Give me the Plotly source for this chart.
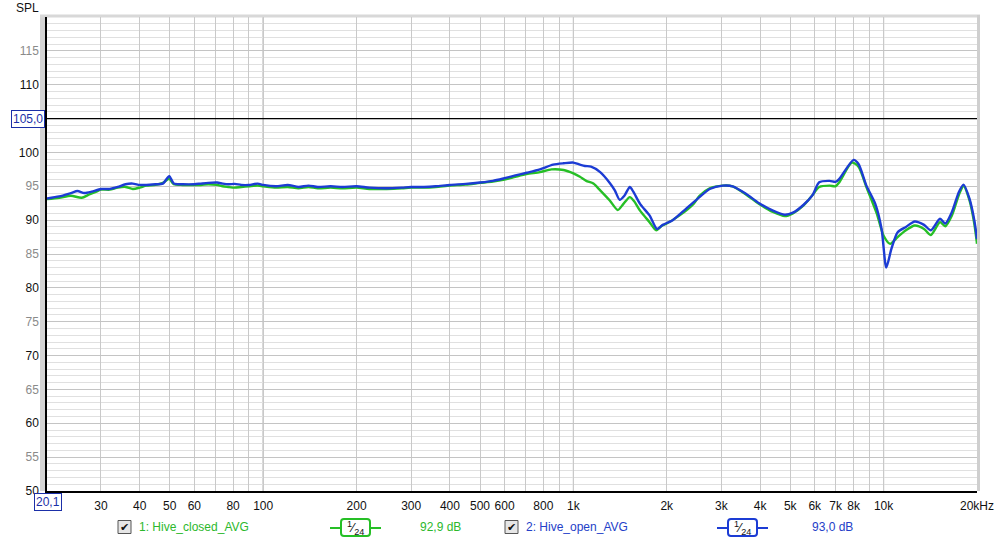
import numpy as np
import plotly.graph_objects as go

# ---------------- data ----------------
freq_closed = [20.1, 22, 24, 26, 27.5, 29, 30, 32, 34, 36, 38, 40, 42, 45, 47.5, 49.8, 51.5, 55, 60, 63,
               66.5, 71, 74, 77, 81, 85, 90, 96, 100, 110, 120, 130, 140, 150, 165, 180, 200, 220, 250,
               280, 300, 330, 360, 400, 450, 500, 550, 600, 650, 707, 780, 850, 930, 1000, 1050, 1100,
               1160, 1220, 1310, 1390, 1450, 1520, 1570, 1640, 1760, 1850, 1920, 2000, 2200, 2440, 2550,
               2750, 3030, 3260, 3600, 3970, 4400, 4800, 5100, 5500, 5900, 6200, 6700, 7000, 7200, 7900,
               8300, 8800, 9500, 10000, 10500, 11100, 11800, 12600, 13500, 14200, 15200, 15800, 16600,
               17500, 18100, 18900, 19600, 20000]
spl_closed = [93.1, 93.3, 93.6, 93.3, 93.8, 94.2, 94.5, 94.5, 94.8, 94.9, 94.6, 94.8, 95.1, 95.2, 95.5, 96.1,
              95.3, 95.2, 95.2, 95.2, 95.3, 95.2, 95.0, 94.9, 94.8, 94.9, 95.0, 95.1, 95.0, 94.8, 94.9,
              94.7, 94.9, 94.7, 94.8, 94.7, 94.8, 94.6, 94.6, 94.7, 94.8, 94.8, 94.9, 95.1, 95.25, 95.5,
              95.7, 96.0, 96.4, 96.8, 97.1, 97.5, 97.4, 96.9, 96.4, 95.8, 95.4, 94.4, 92.9, 91.5, 92.4,
              93.4, 92.8, 91.4, 89.7, 88.5, 89.1, 89.5, 90.7, 92.4, 93.6, 94.7, 95.1, 95.0, 93.8, 92.4,
              91.2, 90.6, 91.0, 92.1, 93.7, 94.9, 95.1, 95.0, 95.6, 98.5, 97.9, 94.9, 91.0, 87.7, 86.5,
              87.5, 88.5, 89.2, 88.7, 87.8, 89.7, 89.1, 90.7, 93.8, 95.05, 93.0, 89.5, 86.5]

freq_open = [20.1, 22, 24, 25.2, 26.5, 28, 30, 32, 34, 36, 38, 40, 42, 45, 47.5, 49.8, 51.5, 55, 60, 63,
             66.5, 71, 74, 77, 81, 85, 90, 96, 100, 110, 120, 130, 140, 150, 165, 180, 200, 220, 250,
             280, 300, 330, 360, 400, 450, 500, 550, 600, 650, 707, 780, 860, 930, 1000, 1050, 1090,
             1140, 1220, 1310, 1360, 1410, 1460, 1520, 1560, 1640, 1760, 1860, 1940, 2090, 2310, 2550,
             2750, 3030, 3260, 3600, 3970, 4400, 4800, 5100, 5500, 5900, 6200, 6700, 7000, 7200, 8000,
             8300, 8800, 9400, 9850, 10200, 10600, 11100, 11800, 12600, 13500, 14200, 15200, 15800,
             16600, 17500, 18100, 18900, 19600, 20000]
spl_open = [93.2, 93.5, 94.0, 94.3, 94.0, 94.2, 94.6, 94.6, 94.9, 95.3, 95.4, 95.2, 95.2, 95.3, 95.4, 96.5,
            95.4, 95.3, 95.3, 95.4, 95.5, 95.55, 95.4, 95.3, 95.35, 95.2, 95.2, 95.4, 95.2, 95.0, 95.2,
            94.9, 95.1, 94.9, 95.0, 94.9, 95.0, 94.8, 94.7, 94.8, 94.9, 94.9, 95.0, 95.2, 95.35, 95.55,
            95.8, 96.2, 96.6, 97.0, 97.5, 98.2, 98.4, 98.5, 98.2, 98.0, 97.9, 97.1, 95.5, 94.4, 93.0,
            93.6, 94.9, 94.2, 92.4, 90.7, 88.7, 89.3, 90.0, 91.7, 93.4, 94.6, 95.1, 95.0, 93.9, 92.5,
            91.4, 90.8, 91.1, 92.2, 93.7, 95.6, 95.8, 95.65, 96.1, 98.9, 98.3, 95.1, 92.4, 88.7, 83.0,
            85.8, 88.2, 89.0, 89.8, 89.3, 88.5, 90.2, 89.5, 91.2, 94.2, 95.25, 93.2, 90.0, 87.2]

series_names = ["1: Hive_closed_AVG", "2: Hive_open_AVG"]
series_levels = ["92,9 dB", "93,0 dB"]
smoothing_label = "<sup>1</sup>⁄<sub>24</sub>"

grid_freqs = [30, 40, 50, 60, 70, 80, 90, 100, 200, 300, 400, 500, 600, 700, 800, 900,
              1000, 2000, 3000, 4000, 5000, 6000, 7000, 8000, 9000, 10000, 20000]
grid_labels = ["30", "40", "50", "60", " ", "80", " ", "100", "200", "300", "400", "500", "600", " ",
               "800", " ", "1k", "2k", "3k", "4k", "5k", "6k", "7k", "8k", " ", "10k", "20kHz"]
decade_freqs = [100, 1000, 10000]
y_ticks = [50, 55, 60, 65, 70, 75, 80, 85, 90, 95, 100, 105, 110, 115]
marker_level = 105.0
f_start = 20.1

# ---------------- styling ----------------
GREEN = "#26bf26"
BLUE = "#1c3cd4"
TEXT_GREEN = "#2cb82c"
TEXT_BLUE = "#2440c8"
FONT = "Liberation Sans, Arial, sans-serif"

W, H = 1000, 542
L, R, T, B = 47, 23, 17, 51
PW, PH = W - L - R, H - T - B


def px(x):
    return (x - L) / PW


def py(y):
    return (H - B - y) / PH


fig = go.Figure()
fig.add_trace(go.Scatter(x=freq_closed, y=spl_closed, mode="lines", name=series_names[0],
                         line=dict(color=GREEN, width=2.4, shape="spline", smoothing=0.7),
                         hoverinfo="x+y"))
fig.add_trace(go.Scatter(x=freq_open, y=spl_open, mode="lines", name=series_names[1],
                         line=dict(color=BLUE, width=2.4, shape="spline", smoothing=0.7),
                         hoverinfo="x+y"))


def ylab(v):
    if v == marker_level:
        return " "
    col = "#111111" if v % 10 == 0 else "#8a8a8a"
    return f'<span style="color:{col}">{v}</span>'


shapes = []
# decade gridlines (darker)
for f in decade_freqs:
    shapes.append(dict(type="line", xref="x", yref="paper", x0=f, x1=f, y0=0, y1=1,
                       line=dict(color="#8c8c8c", width=1), layer="below"))
# reference level line
shapes.append(dict(type="line", xref="paper", yref="y", x0=0, x1=1, y0=marker_level, y1=marker_level,
                   line=dict(color="#000000", width=1.2), layer="above"))
# frame shadows
shapes.append(dict(type="rect", xref="paper", yref="paper", x0=px(40), x1=px(46.5), y0=0, y1=py(15),
                   fillcolor="#d4d4d4", line=dict(width=0), layer="below"))
shapes.append(dict(type="rect", xref="paper", yref="paper", x0=px(40), x1=px(980), y0=py(17.5), y1=py(14.5),
                   fillcolor="#d8d8d8", line=dict(width=0), layer="below"))
shapes.append(dict(type="rect", xref="paper", yref="paper", x0=px(977), x1=px(980), y0=0, y1=py(15),
                   fillcolor="#cfcfcf", line=dict(width=0), layer="below"))

annotations = []
annotations.append(dict(xref="paper", yref="paper", x=px(14), y=py(8), text="SPL", showarrow=False,
                        font=dict(family=FONT, size=12, color="#111"), xanchor="left", yanchor="middle"))
# value boxes
annotations.append(dict(xref="paper", yref="y", x=px(45), y=marker_level, text="105,0", showarrow=False,
                        font=dict(family=FONT, size=12, color="#1b2fa8"), xanchor="right", yanchor="middle",
                        bordercolor="#1b2fa8", borderwidth=1, borderpad=1, bgcolor="#ffffff"))
annotations.append(dict(xref="paper", yref="paper", x=px(47.5), y=py(502), text="20,1", showarrow=False,
                        font=dict(family=FONT, size=12, color="#1b2fa8"), xanchor="center", yanchor="middle",
                        bordercolor="#1b2fa8", borderwidth=1, borderpad=1, bgcolor="#ffffff"))

# legend row
legend_layout = [
    dict(cb=118, name_x=137, line=(330, 381), box=(341, 370), lvl=440, col=GREEN, tcol=TEXT_GREEN),
    dict(cb=505, name_x=524, line=(717, 768), box=(728, 757), lvl=832, col=BLUE, tcol=TEXT_BLUE),
]
ly = 527
for i, it in enumerate(legend_layout):
    shapes.append(dict(type="rect", xref="paper", yref="paper", x0=px(it["cb"]), x1=px(it["cb"] + 13),
                       y0=py(ly + 6.5), y1=py(ly - 6.5), fillcolor="#e6e6e6",
                       line=dict(color="#555555", width=1)))
    annotations.append(dict(xref="paper", yref="paper", x=px(it["cb"] + 6.5), y=py(ly), text="✔",
                            showarrow=False, font=dict(family="DejaVu Sans", size=11, color="#111"),
                            xanchor="center", yanchor="middle"))
    annotations.append(dict(xref="paper", yref="paper", x=px(it["name_x"]), y=py(ly), text=series_names[i],
                            showarrow=False, font=dict(family=FONT, size=12, color=it["tcol"]),
                            xanchor="left", yanchor="middle"))
    shapes.append(dict(type="line", xref="paper", yref="paper", x0=px(it["line"][0]), x1=px(it["line"][1]),
                       y0=py(ly + 1), y1=py(ly + 1), line=dict(color=it["col"], width=2)))
    bx0, bx1 = px(it["box"][0]), px(it["box"][1])
    by0, by1 = py(ly + 9), py(ly - 8)
    r = 3
    rx, ry = r / PW, r / PH
    path = (f"M {bx0+rx},{by1} L {bx1-rx},{by1} Q {bx1},{by1} {bx1},{by1-ry} "
            f"L {bx1},{by0+ry} Q {bx1},{by0} {bx1-rx},{by0} L {bx0+rx},{by0} "
            f"Q {bx0},{by0} {bx0},{by0+ry} L {bx0},{by1-ry} Q {bx0},{by1} {bx0+rx},{by1} Z")
    shapes.append(dict(type="path", xref="paper", yref="paper", path=path, fillcolor="#ffffff",
                       line=dict(color=it["col"], width=2)))
    annotations.append(dict(xref="paper", yref="paper", x=(bx0 + bx1) / 2, y=py(ly + 0.5), text=smoothing_label,
                            showarrow=False, font=dict(family=FONT, size=13, color="#111"),
                            xanchor="center", yanchor="middle"))
    annotations.append(dict(xref="paper", yref="paper", x=px(it["lvl"]), y=py(ly), text=series_levels[i],
                            showarrow=False, font=dict(family=FONT, size=12, color=it["tcol"]),
                            xanchor="center", yanchor="middle"))

fig.update_layout(
    width=W, height=H,
    margin=dict(l=L, r=R, t=T, b=B, pad=0, autoexpand=False),
    paper_bgcolor="#ffffff", plot_bgcolor="#ffffff",
    showlegend=False,
    font=dict(family=FONT, size=12, color="#111"),
    shapes=shapes, annotations=annotations,
    xaxis=dict(type="log", range=[np.log10(f_start), np.log10(20000)],
               tickvals=grid_freqs, ticktext=grid_labels, tickangle=0, automargin=False,
               showgrid=True, gridcolor="#c9c9c9", gridwidth=1,
               showline=True, linecolor="#000000", linewidth=1.5,
               ticks="outside", ticklen=3, tickcolor="rgba(0,0,0,0)",
               tickfont=dict(family=FONT, size=12, color="#111"),
               zeroline=False, fixedrange=True),
    yaxis=dict(range=[50, 120], tickvals=y_ticks, ticktext=[ylab(v) for v in y_ticks], automargin=False,
               showgrid=True, gridcolor="#c4c4c4", gridwidth=1,
               minor=dict(dtick=1, showgrid=True, gridcolor="#e0e0e0", gridwidth=1),
               showline=True, linecolor="#000000", linewidth=1.5,
               ticks="outside", ticklen=4, tickcolor="rgba(0,0,0,0)",
               tickfont=dict(family=FONT, size=12, color="#111"),
               zeroline=False, fixedrange=True),
)

fig.write_html("out.html", config={"displayModeBar": False},
               post_script="document.body.style.margin='0';document.body.style.padding='0';")
